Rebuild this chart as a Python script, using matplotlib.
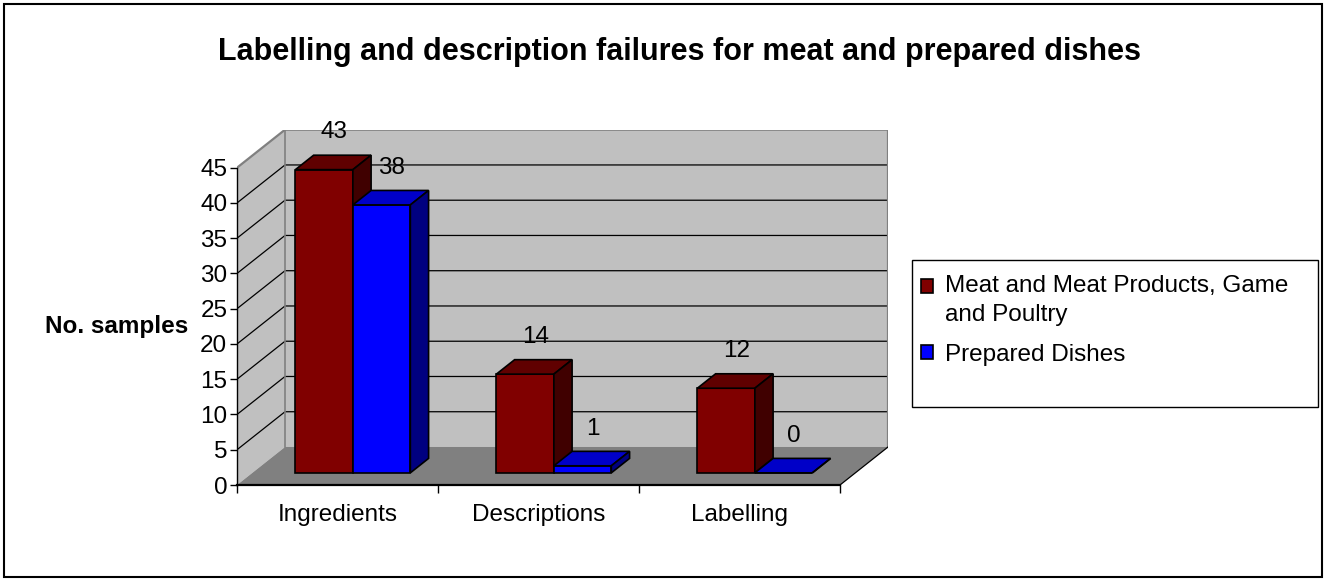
import matplotlib
matplotlib.use("Agg")
import matplotlib.pyplot as plt
from matplotlib.patches import Polygon, Rectangle, Patch
from matplotlib.legend_handler import HandlerPatch

plt.rcParams['font.family'] = ['Liberation Sans', 'DejaVu Sans']

# data
categories = ['Ingredients', 'Descriptions', 'Labelling']
series = ['Meat and Meat Products, Game\nand Poultry', 'Prepared Dishes']
meat = [43, 14, 12]
dishes = [38, 1, 0]
yticks = list(range(0, 50, 5))

# colours: front, top, side
front_c = ['#800000', '#0000ff']
top_c = ['#600000', '#0000c8']
side_c = ['#400000', '#000080']

# pseudo 3d projection of the depth axis, in data units
DX = 48 / 201
DY = 38 / 7.05
D0, DD = 0.32, 0.38      # bar start depth and bar depth (fraction)
BW = 0.286               # bar width in category units
G = (1 - 2 * BW) / 2

fig = plt.figure(figsize=(13.27, 5.79), dpi=100)
ax = fig.add_axes([237 / 1327, 94 / 579, 651 / 1327, 355.3 / 579])
ax.set_xlim(0, 3 + DX)
ax.set_ylim(0, 45 + DY)
ax.patch.set_visible(False)

n = len(categories)
ymax = yticks[-1]

# walls and floor
ax.add_patch(Polygon([(0, 0), (DX, DY), (DX, ymax + DY), (0, ymax)],
                     closed=True, facecolor='#c0c0c0', edgecolor='none', zorder=1))
ax.add_patch(Polygon([(DX, DY), (n + DX, DY), (n + DX, ymax + DY), (DX, ymax + DY)],
                     closed=True, facecolor='#c0c0c0', edgecolor='none', zorder=1))
ax.add_patch(Polygon([(0, 0), (n, 0), (n + DX, DY), (DX, DY)],
                     closed=True, facecolor='#808080', edgecolor='none', zorder=1))

for v in yticks[1:-1]:
    ax.plot([0, DX, n + DX], [v, v + DY, v + DY], color='black', lw=0.9, zorder=2)

# wall borders
ax.plot([0, DX, n + DX, n + DX], [ymax, ymax + DY, ymax + DY, DY],
        color='#808080', lw=1.6, zorder=2, solid_joinstyle='miter')
ax.plot([DX, DX], [DY, ymax + DY], color='#808080', lw=1.2, zorder=2)
ax.plot([n, n + DX], [0, DY], color='black', lw=0.9, zorder=2)

# bars
ox, oy = D0 * DX, D0 * DY
px, py = DD * DX, DD * DY
for i in range(n):
    for s, vals in enumerate([meat, dishes]):
        v = vals[i]
        x0 = i + G + s * BW + ox
        x1 = x0 + BW
        y0 = oy
        y1 = oy + v
        kw = dict(closed=True, edgecolor='black', lw=1.2, zorder=3 + i * 2 + s,
                  joinstyle='miter')
        ax.add_patch(Polygon([(x0, y0), (x1, y0), (x1, y1), (x0, y1)],
                             facecolor=front_c[s], **kw))
        ax.add_patch(Polygon([(x0, y1), (x1, y1), (x1 + px, y1 + py), (x0 + px, y1 + py)],
                             facecolor=top_c[s], **kw))
        ax.add_patch(Polygon([(x1, y0), (x1 + px, y0 + py), (x1 + px, y1 + py), (x1, y1)],
                             facecolor=side_c[s], **kw))
        ax.text(x0 + BW / 2 + 0.55 * px, y1 + 7.0 - oy, str(v), ha='center', va='center',
                fontsize=17.5, zorder=20)

# axes
for sp in ['top', 'right']:
    ax.spines[sp].set_visible(False)
ax.spines['left'].set_bounds(0, ymax)
ax.spines['bottom'].set_bounds(0, n)
ax.spines['left'].set_linewidth(1.0)
ax.spines['bottom'].set_linewidth(1.6)
ax.spines['left'].set_zorder(30)
ax.spines['bottom'].set_zorder(30)
ax.set_yticks(yticks)
ax.tick_params(axis='y', length=5, width=1, pad=2, labelsize=17.5)
ax.set_xticks(range(n + 1))
ax.set_xticklabels([''] * (n + 1))
ax.set_xticks([i + 0.5 for i in range(n)], labels=categories, minor=True)
ax.tick_params(axis='x', which='major', length=6, width=1)
ax.tick_params(axis='x', which='minor', length=0, pad=14, labelsize=17.5)

ax.set_ylabel('No. samples', rotation=0, fontsize=17.5, fontweight='bold',
              ha='right', va='center')
ax.yaxis.set_label_coords(-0.075, 0.447)

fig.text(680 / 1327, 1 - 52 / 579,
         'Labelling and description failures for meat and prepared dishes',
         ha='center', va='center', fontsize=22, fontweight='bold')


# legend: first marker sits on the first line of its two-line label
def first_line_patch(legend, orig_handle, xdescent, ydescent, width, height, fontsize):
    return Rectangle((-xdescent, -ydescent + 10.8), width, height)


handles = [Patch(facecolor=c, edgecolor='black', lw=1.2) for c in front_c]
leg = fig.legend(handles, series, loc='upper left',
                 bbox_to_anchor=(921 / 1327, 1 - 275 / 579),
                 frameon=False, fontsize=17.5, handlelength=0.5, handleheight=0.5,
                 handletextpad=0.5, labelspacing=0.72, borderpad=0, borderaxespad=0,
                 handler_map={handles[0]: HandlerPatch(patch_func=first_line_patch)})
for t in leg.get_texts():
    t.set_linespacing(1.44)
fig.add_artist(Rectangle((912 / 1327, 1 - 407 / 579), 406 / 1327, 147 / 579,
                         transform=fig.transFigure, fill=False, edgecolor='black', lw=1))

# outer border
fig.add_artist(Rectangle((4 / 1327, 2 / 579), 1318 / 1327, 573 / 579,
                         transform=fig.transFigure, fill=False, edgecolor='black', lw=1.5))

fig.savefig('out.png', dpi=100)
